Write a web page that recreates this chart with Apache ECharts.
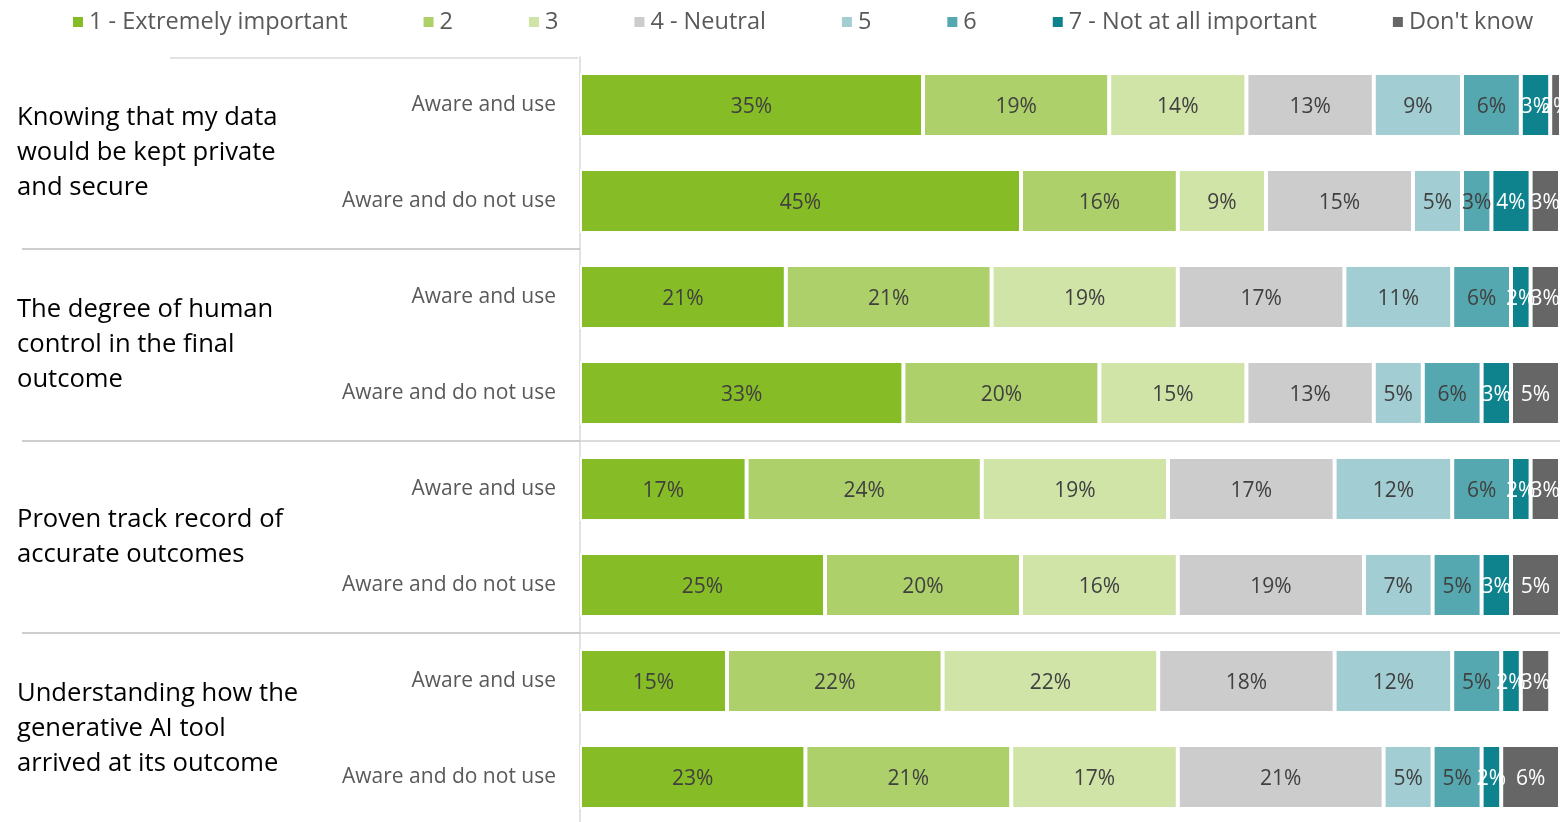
<!DOCTYPE html>
<html>
<head>
<meta charset="utf-8">
<script src="https://cdn.jsdelivr.net/npm/echarts@6/dist/echarts.min.js"></script>
<style>
html,body{margin:0;padding:0;background:#fff;}
#chart{width:1561px;height:822px;}
</style>
</head>
<body>
<div id="chart"></div>
<script>
// ---- data ----
const groupLabels = [
  "Knowing that my data\nwould be kept private\nand secure",
  "The degree of human\ncontrol in the final\noutcome",
  "Proven track record of\naccurate outcomes",
  "Understanding how the\ngenerative AI tool\narrived at its outcome"
];
const rowLabels = [
  "Aware and use", "Aware and do not use",
  "Aware and use", "Aware and do not use",
  "Aware and use", "Aware and do not use",
  "Aware and use", "Aware and do not use"
];
const seriesNames = ["1 - Extremely important", "2", "3", "4 - Neutral", "5", "6", "7 - Not at all important", "Don't know"];
const s1 = [35, 45, 21, 33, 17, 25, 15, 23];
const s2 = [19, 16, 21, 20, 24, 20, 22, 21];
const s3 = [14, 9, 19, 15, 19, 16, 22, 17];
const s4 = [13, 15, 17, 13, 17, 19, 18, 21];
const s5 = [9, 5, 11, 5, 12, 7, 12, 5];
const s6 = [6, 3, 6, 6, 6, 5, 5, 5];
const s7 = [3, 4, 2, 3, 2, 3, 2, 2];
const sDK = [2, 3, 3, 5, 3, 5, 3, 6];
const seriesValues = [s1, s2, s3, s4, s5, s6, s7, sDK];
const colors = ["#86BC25", "#ADD06A", "#D0E4A8", "#CCCCCC", "#A1CDD3", "#56A8B0", "#0E838D", "#666666"];
const labelColors = ["#404040", "#404040", "#404040", "#404040", "#404040", "#404040", "#FFFFFF", "#FFFFFF"];

const FONT = '"Open Sans", sans-serif';

const chart = echarts.init(document.getElementById('chart'), null, {renderer: 'canvas'});

const series = seriesNames.map((name, i) => ({
  name: name,
  type: 'bar',
  stack: 'total',
  barWidth: 64,
  data: seriesValues[i],
  itemStyle: {color: colors[i], borderColor: '#ffffff', borderWidth: 2},
  label: {
    show: true,
    position: 'inside',
    offset: [0, 2],
    formatter: '{c}%',
    color: labelColors[i],
    fontFamily: FONT,
    fontSize: 21
  },
  emphasis: {disabled: true}
}));

chart.setOption({
  animation: false,
  backgroundColor: '#ffffff',
  color: colors,
  legend: {
    data: seriesNames,
    left: 66,
    top: 5,
    icon: 'rect',
    itemWidth: 12,
    itemHeight: 12,
    itemGap: 74,
    textStyle: {color: '#595959', fontFamily: FONT, fontSize: 23.5},
    selectedMode: false
  },
  grid: {left: 580, right: 1, top: 57, height: 768, containLabel: false, outerBoundsMode: 'none'},
  xAxis: {
    type: 'value', min: 0, max: 100, show: false
  },
  yAxis: [
    {
      type: 'category',
      inverse: true,
      data: rowLabels,
      offset: 2,
      axisLine: {show: true, lineStyle: {color: '#D9D9D9', width: 1.5}},
      axisTick: {show: false},
      splitLine: {show: false},
      axisLabel: {color: '#595959', fontFamily: FONT, fontSize: 21, margin: 22, padding: [2, 0, 0, 0]}
    },
    {
      type: 'category',
      inverse: true,
      position: 'left',
      data: groupLabels,
      axisLine: {show: false},
      axisTick: {
        show: true,
        inside: false,
        length: 558,
        interval: function (index) { return index > 0; },
        lineStyle: {color: '#BFBFBF', width: 1.5}
      },
      splitLine: {
        show: true,
        showMinLine: false,
        showMaxLine: false,
        interval: function (index) { return index > 0; },
        lineStyle: {color: '#D0D0D0', width: 1.5}
      },
      axisLabel: {
        color: '#000000',
        fontFamily: FONT,
        fontSize: 25.6,
        lineHeight: 35,
        align: 'left',
        margin: 563,
        padding: [6, 0, 0, 0]
      }
    }
  ],
  series: series
});

// short top border of the label panel
const topY = chart.convertToPixel({yAxisIndex: 0}, 0) - 48;
chart.setOption({
  graphic: [{
    type: 'line',
    shape: {x1: 170, y1: topY + 1, x2: 578, y2: topY + 1},
    style: {stroke: '#D9D9D9', lineWidth: 1.5},
    silent: true
  }]
});
</script>
</body>
</html>
